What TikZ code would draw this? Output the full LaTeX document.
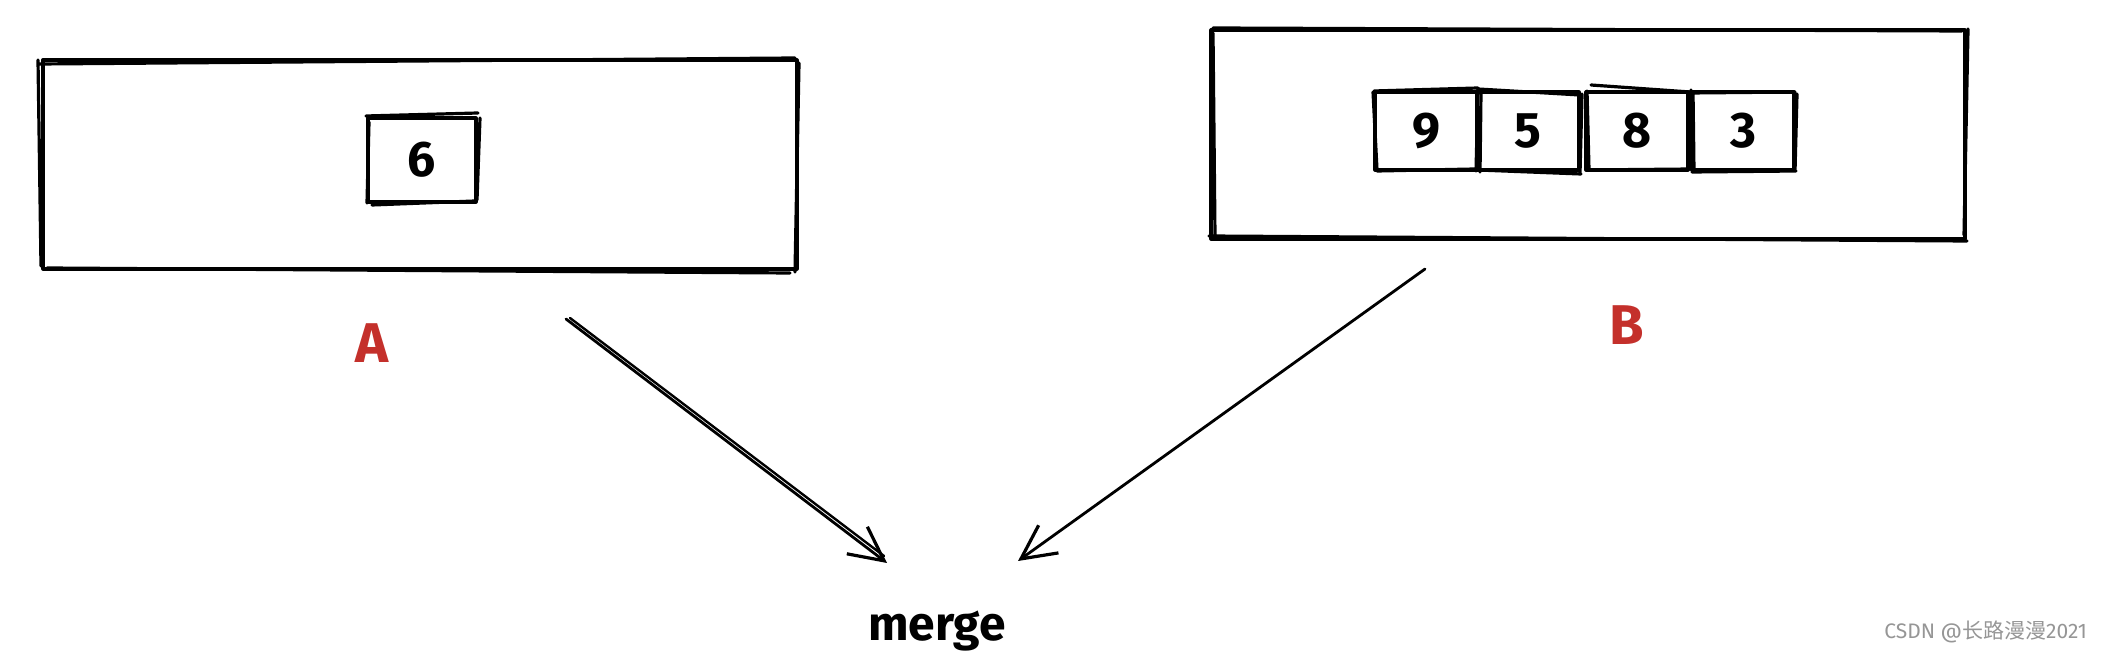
\documentclass[tikz,border=0pt]{standalone}
\usepackage{fontspec}
\setmainfont{Fira Sans}
\newfontfamily\cjkfont{Noto Sans CJK SC}
\usetikzlibrary{arrows.meta}
\definecolor{labred}{RGB}{196,48,43}
\definecolor{wmgrey}{RGB}{150,150,150}
\tikzset{
  sk/.style={line width=1.6pt, line join=round, line cap=round},
  bigbox/.style={sk, draw, inner sep=0pt},
  cell/.style={sk, draw, inner sep=0pt, minimum width=51pt, minimum height=39pt, font=\bfseries\fontsize{25}{25}\selectfont},
  lbl/.style={text=labred, font=\bfseries\fontsize{28}{28}\selectfont},
  arr/.style={sk, line width=1.4pt, -{Straight Barb[length=17pt,width=17pt,line width=1.6pt]}},
}
\begin{document}
\begin{tikzpicture}[x=0.5pt,y=-0.5pt]
\useasboundingbox[fill=white] (0,0) rectangle (2108,656);
% left container
\node[bigbox, minimum width=377pt, minimum height=104.5pt] (L) at (420,164.5) {};
\draw[sk] (40,64) -- (795,58) (47,268) -- (790,273) (38,60) -- (41,266) (799,63) -- (795,272);
% cell 6
\node[cell, minimum width=54pt, minimum height=42pt] (c6) at (422,160) {6};
\draw[sk] (366,116) -- (478,113) (372,205) -- (475,201) (369,122) -- (367,203) (480,118) -- (477,200);
% right container
\node[bigbox, minimum width=377pt, minimum height=104.5pt] (R) at (1588,134.5) {};
\draw[sk] (1213,28) -- (1962,31) (1209,236) -- (1967,241) (1213,33) -- (1215,237) (1968,29) -- (1964,235);
% cells 9 5 8 3
\node[cell] (c9) at (1426,131) {9};
\node[cell] (c5) at (1528,131) {5};
\node[cell] (c8) at (1637,131) {8};
\node[cell] (c3) at (1743,131) {3};
\draw[sk] (1374,91) -- (1478,88) (1377,171) -- (1475,169) (1373,92) -- (1377,170) (1478,90) -- (1476,171);
\draw[sk] (1478,89) -- (1580,95) (1478,170) -- (1581,174) (1481,92) -- (1480,172) (1582,94) -- (1580,173);
\draw[sk] (1591,85) -- (1690,92) (1587,170) -- (1692,169) (1587,91) -- (1589,170) (1691,90) -- (1693,170);
\draw[sk] (1690,93) -- (1795,92) (1692,172) -- (1796,171) (1693,92) -- (1694,172) (1797,94) -- (1795,171);
% labels
\node[lbl] (A) at (372,343) {A};
\node[lbl] (B) at (1627,325) {B};
\node[font=\bfseries\fontsize{24}{24}\selectfont] (M) at (937,631) {merge};
% arrows
\coordinate (a1s) at (566,319);
\coordinate (a1e) at (887,563);
\coordinate (a2s) at (1425,269);
\coordinate (a2e) at (1018,561);
\draw[arr] (a1s) -- (a1e);
\draw[sk, line width=1.2pt] (570,318) -- (884,556);
\draw[arr] (a2s) -- (a2e);
% watermark
\node[text=wmgrey, anchor=east, font=\fontsize{10.5}{10.5}\selectfont] (wm) at (2094,632) {CSDN @{\cjkfont 长路漫漫}2021};
\end{tikzpicture}
\end{document}
